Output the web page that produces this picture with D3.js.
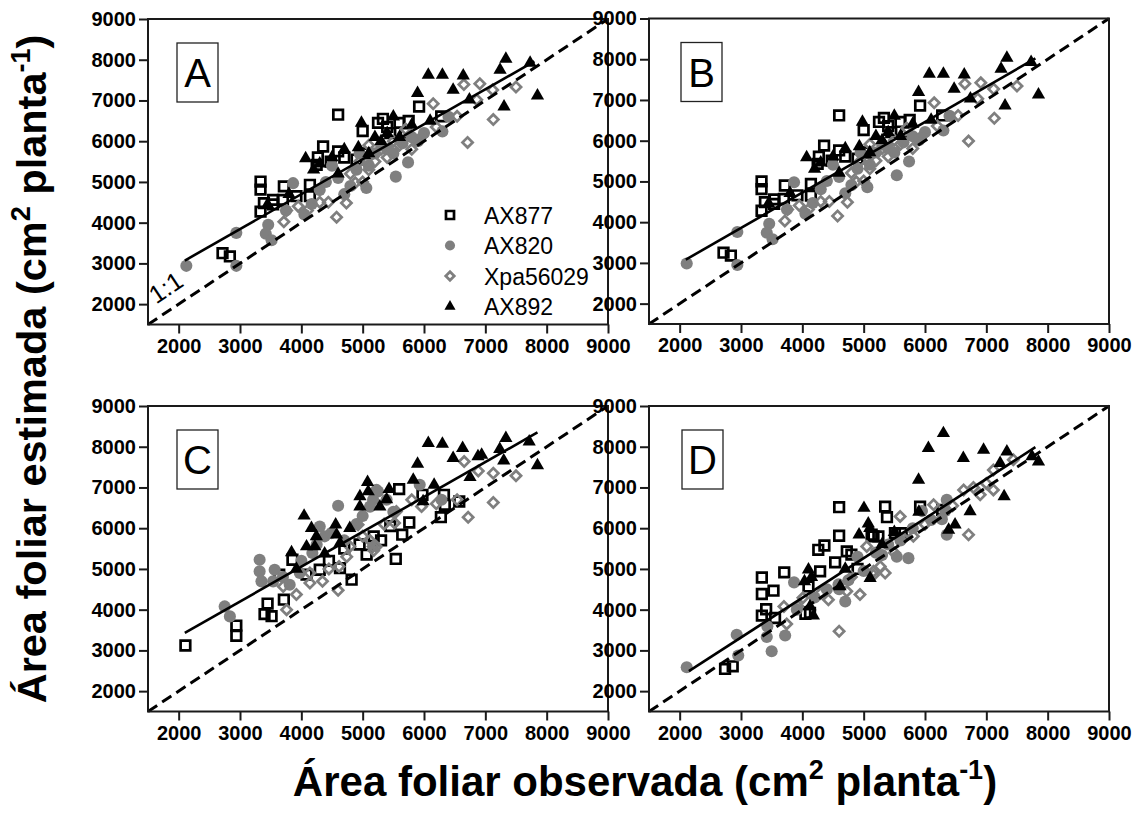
<!DOCTYPE html>
<html>
<head>
<meta charset="utf-8">
<script src="https://cdn.jsdelivr.net/npm/d3@7"></script>
<style>
  body { margin: 0; background: #fff; }
  svg { display: block; }
  text { font-family: "Liberation Sans", Arial, sans-serif; }
</style>
</head>
<body>
<svg id="chart" width="1145" height="818"></svg>
<script>
// ---------------- DATA ----------------
const seriesNames = ["AX877", "AX820", "Xpa56029", "AX892"];
const panelLetters = ["A", "B", "C", "D"];
const tickValues = [2000, 3000, 4000, 5000, 6000, 7000, 8000, 9000];
const axisDomain = [1500, 9000];

// [observed, estimated] pairs
const A_AX877 = [[2715,3250],[2835,3170],[3335,5010],[3335,4810],[3335,4270],[3390,4480],[3540,4560],[3540,4450],[3715,4890],[3700,4560],[3920,4650],[4140,4930],[4140,4650],[4250,5420],[4355,5870],[4270,5600],[4600,5750],[4600,6650],[4700,5600],[4900,5550],[5000,6250],[5050,5700],[5250,6450],[5330,6550],[5400,6350],[5450,6200],[5600,6450],[5700,6200],[5750,6500],[5920,6850],[6280,6610],[4480,5500]];
const A_AX820 = [[2125,2940],[2940,3750],[2940,2940],[3460,3950],[3420,3730],[3515,3570],[3865,4970],[3750,4300],[4170,4460],[4050,4200],[4300,4800],[4400,5000],[4500,5400],[4700,4700],[4800,4900],[4900,5300],[5060,4850],[5100,5400],[5200,5700],[5300,5900],[5400,5800],[5500,5700],[5540,5130],[5740,5480],[5900,6000],[6000,6200],[6300,6240],[6400,6600],[4600,5100],[5800,6100],[4950,5700],[5650,5950]];
const A_Xpa56029 = [[3715,4020],[3760,4300],[3950,4400],[4100,4300],[4300,4500],[4440,4500],[4575,4135],[4735,4480],[4800,5200],[4880,4980],[4950,5500],[5000,5000],[5100,5300],[5200,5500],[5300,5800],[5400,5600],[5500,6000],[5600,5900],[5700,6300],[5800,5800],[5975,6135],[6150,6920],[6540,6610],[6650,7390],[6710,5970],[6860,7020],[6910,7410],[7120,7260],[7130,6530],[7500,7330],[6200,6350],[5100,5900]];
const A_AX892 = [[3450,4450],[3800,4700],[4070,5580],[4200,5300],[4300,5450],[4500,5600],[4600,5200],[4700,5800],[4930,5850],[4980,6450],[5100,5700],[5300,6000],[5400,6200],[5500,6600],[5600,6100],[5800,6400],[5895,7180],[6070,7630],[6300,7630],[6475,7260],[6640,7610],[6740,7020],[7240,7750],[7335,8020],[7305,6850],[7730,7920],[7850,7120],[6100,6500],[5200,6100]];

const B_AX877 = [[2715,3250],[2835,3180],[3335,5000],[3335,4810],[3335,4280],[3390,4490],[3540,4560],[3540,4450],[3715,4900],[3700,4570],[3920,4660],[4140,4940],[4140,4650],[4250,5430],[4355,5880],[4270,5610],[4600,5760],[4600,6620],[4700,5610],[4900,5560],[5000,6260],[5050,5710],[5250,6460],[5330,6560],[5400,6360],[5450,6210],[5600,6460],[5700,6210],[5750,6510],[5920,6860],[6280,6620],[4480,5510]];
const B_AX820 = [[2115,2985],[2940,3760],[2940,2950],[3460,3960],[3420,3740],[3515,3580],[3865,4980],[3750,4310],[4170,4470],[4050,4210],[4300,4810],[4400,5010],[4500,5410],[4700,4710],[4800,4910],[4900,5310],[5060,4860],[5100,5410],[5200,5710],[5300,5910],[5400,5810],[5500,5710],[5540,5150],[5740,5490],[5900,6010],[6000,6210],[6300,6250],[6400,6610],[4600,5110],[5800,6110],[4950,5710],[5650,5960]];
const B_Xpa56029 = [[3715,4030],[3760,4310],[3950,4410],[4100,4310],[4300,4510],[4440,4510],[4575,4150],[4735,4490],[4800,5210],[4880,4990],[4950,5510],[5000,5010],[5100,5310],[5200,5510],[5300,5810],[5400,5610],[5500,6010],[5600,5910],[5700,6310],[5800,5810],[5975,6150],[6150,6930],[6540,6620],[6650,7400],[6710,5990],[6860,7030],[6910,7420],[7120,7270],[7130,6550],[7500,7340],[6200,6360],[5100,5910]];
const B_AX892 = [[3450,4460],[3800,4710],[4070,5590],[4200,5310],[4300,5460],[4500,5610],[4600,5210],[4700,5810],[4930,5860],[4980,6460],[5100,5710],[5300,6010],[5400,6210],[5500,6610],[5600,6110],[5800,6410],[5895,7190],[6070,7640],[6300,7640],[6475,7270],[6640,7620],[6740,7030],[7240,7760],[7335,8030],[7305,6860],[7730,7930],[7850,7130],[6100,6510],[5200,6110]];

const C_AX877 = [[2110,3120],[2940,3610],[2940,3360],[3450,4150],[3400,3890],[3515,3840],[3715,4245],[3640,4860],[3855,5225],[4085,4860],[4300,4980],[4630,5020],[4820,4735],[5065,5350],[5595,6960],[5975,6820],[6325,6820],[6340,6575],[6275,6270],[6575,6655],[5760,6140],[5645,5840],[5540,5245],[5180,5800],[4450,5200],[4700,5500],[4950,5600],[5300,5700],[5450,6050]];
const C_AX820 = [[2750,4080],[2835,3835],[3320,5225],[3320,4940],[3350,4695],[3565,4980],[3540,4695],[4300,6040],[4380,5800],[4600,6550],[4180,5390],[4490,5880],[4900,6100],[5170,6700],[5250,6900],[3810,4610],[3975,4900],[5225,6940],[5390,6700],[5930,7065],[6285,6700],[5120,6530],[4000,5200],[4700,5700],[5000,6300],[5500,6400],[4250,5600],[3700,4800]];
const C_Xpa56029 = [[3760,4000],[3705,4570],[3920,4370],[4140,4655],[4345,4695],[4600,4475],[4615,5060],[4740,5300],[4790,5550],[4925,6085],[5170,5550],[5120,5700],[4140,4900],[6655,7635],[6885,7405],[7130,7350],[7500,7285],[7130,6630],[6720,6270],[6540,6700],[5800,6700],[5960,6530],[5550,6410],[5520,6130],[5225,5550],[5180,5450],[4450,5000],[5000,5800],[5350,6100],[6200,6600]];
const C_AX892 = [[7335,8210],[7715,8125],[7235,7940],[6940,7800],[6880,7760],[7300,7660],[7850,7540],[6070,8085],[6300,8070],[6630,7965],[6475,7720],[5895,7580],[6750,7250],[5825,7185],[6165,7065],[5430,6960],[5985,6655],[5280,6530],[5390,6705],[5080,7130],[5090,6900],[4955,6780],[4955,6530],[4045,6305],[4165,6000],[4245,5800],[4560,6085],[4575,5840],[4085,5550],[4220,5550],[3840,5405],[3920,5000],[4790,6000],[4630,5635],[4380,5375]];

const D_AX877 = [[2740,2545],[2865,2610],[3340,4790],[3340,4385],[3340,3855],[3410,4010],[3530,4465],[3555,3795],[3705,4915],[4125,3920],[4100,4570],[4290,4940],[4260,5470],[4360,5575],[4600,6515],[4600,5815],[4535,5160],[4725,5430],[4800,5350],[5160,5800],[5240,5800],[5350,6530],[5920,6530],[5380,6270],[5130,5840],[5510,5880],[5620,5880],[6280,6450],[4900,5000],[4050,3900]];
const D_AX820 = [[2115,2585],[2930,3385],[2955,2875],[3430,3590],[3420,3330],[3500,2980],[3720,3365],[3865,4670],[3910,4000],[4600,4500],[4700,4200],[4590,4620],[4750,4720],[5000,4950],[6355,6695],[6330,6420],[6355,5840],[6275,6220],[5730,5265],[5540,5300],[5300,5340],[5950,6420],[4200,4300],[4400,4500],[5200,5400],[5600,5700],[5800,6000],[4900,5300],[6100,6200],[5400,5600]];
const D_Xpa56029 = [[3700,4080],[3745,3650],[3930,4080],[4010,4290],[4425,4245],[4600,3470],[4940,4370],[4725,4450],[5050,5550],[5160,4940],[7115,7430],[7440,7680],[7115,6940],[6900,6820],[6710,5840],[6630,6940],[6790,7000],[6140,6575],[5595,6290],[5350,4900],[5270,5060],[5160,4850],[5810,5800],[5650,5750],[6450,6550],[4300,4400],[4800,4800],[5500,5400],[6000,6100],[7000,7100]];
const D_AX892 = [[6300,8330],[6055,7965],[6955,7920],[7335,7880],[6625,7720],[7225,7595],[7850,7635],[5895,7185],[7745,7760],[7290,6780],[6735,6410],[6490,6085],[6385,5960],[5900,6400],[5100,6000],[5005,6495],[5075,6110],[4925,5840],[4100,4980],[4035,4695],[4150,4800],[4125,4080],[4180,3850],[4615,4570],[5105,4775],[5500,5900],[5300,5600],[4700,5000]];

// fitted regression segments [x1,y1,x2,y2]
const fitA = [2100, 3070, 7800, 7960];
const fitB = [2100, 3080, 7800, 8020];
const fitC = [2100, 3430, 7850, 8350];
const fitD = [2150, 2490, 7800, 7990];

// ---------------- BUILD ----------------
const panels = [
  { letter: "A", left: 148, top: 19,  data: [A_AX877, A_AX820, A_Xpa56029, A_AX892], fit: fitA, box: 29, legend: true, oneToOne: true },
  { letter: "B", left: 649, top: 18.5, data: [B_AX877, B_AX820, B_Xpa56029, B_AX892], fit: fitB, box: 32 },
  { letter: "C", left: 148, top: 406, data: [C_AX877, C_AX820, C_Xpa56029, C_AX892], fit: fitC, box: 29 },
  { letter: "D", left: 649, top: 406, data: [D_AX877, D_AX820, D_Xpa56029, D_AX892], fit: fitD, box: 33 }
];
const W = 460, H = 305.5;
const gray = "#7f7f7f";

const svg = d3.select("#chart");
svg.append("rect").attr("width", 1145).attr("height", 818).attr("fill", "#fff");

const styles = [
  { sym: d3.symbolSquare, size: 92, fill: "none", stroke: "#000", sw: 2.7, rot: 0 },
  { sym: d3.symbolCircle, size: 115, fill: gray, stroke: "none", sw: 0, rot: 0 },
  { sym: d3.symbolSquare, size: 52, fill: "none", stroke: gray, sw: 2.7, rot: 45 },
  { sym: d3.symbolTriangle, size: 76, fill: "#000", stroke: "none", sw: 0, rot: 0 }
];

panels.forEach(p => {
  const g = svg.append("g").attr("transform", `translate(${p.left},${p.top})`);
  const x = d3.scaleLinear().domain(axisDomain).range([0, W]);
  const y = d3.scaleLinear().domain(axisDomain).range([H, 0]);

  // axes
  const fmt = d3.format("d");
  const xAxis = d3.axisBottom(x).tickValues(tickValues).tickFormat(fmt).tickSize(9).tickSizeOuter(0).tickPadding(5);
  const yAxis = d3.axisLeft(y).tickValues(tickValues).tickFormat(fmt).tickSize(9).tickSizeOuter(0).tickPadding(3);
  const gx = g.append("g").attr("transform", `translate(0,${H})`).call(xAxis);
  const gy = g.append("g").call(yAxis);
  [gx, gy].forEach(a => {
    a.select(".domain").remove();
    a.selectAll(".tick line").attr("stroke", "#1a1a1a").attr("stroke-width", 2);
    a.selectAll(".tick text").attr("fill", "#000").style("font-size", "20px").style("font-weight", "bold")
      .style("font-family", '"Liberation Sans", Arial, sans-serif');
  });

  // data marks
  p.data.forEach((arr, si) => {
    const st = styles[si];
    const gen = d3.symbol().type(st.sym).size(st.size);
    g.append("g").selectAll("path").data(arr).join("path")
      .attr("d", gen)
      .attr("transform", d => `translate(${x(d[0])},${y(d[1])}) rotate(${st.rot})`)
      .attr("fill", st.fill).attr("stroke", st.stroke).attr("stroke-width", st.sw);
  });

  // 1:1 line
  g.append("line")
    .attr("x1", x(1500)).attr("y1", y(1500)).attr("x2", x(9000)).attr("y2", y(9000))
    .attr("stroke", "#000").attr("stroke-width", 3).attr("stroke-dasharray", "11,6");

  // regression line
  g.append("line")
    .attr("x1", x(p.fit[0])).attr("y1", y(p.fit[1])).attr("x2", x(p.fit[2])).attr("y2", y(p.fit[3]))
    .attr("stroke", "#000").attr("stroke-width", 2.6);

  // frame
  g.append("rect").attr("x", 0).attr("y", 0).attr("width", W).attr("height", H)
    .attr("fill", "none").attr("stroke", "#1a1a1a").attr("stroke-width", 2);

  // panel letter box
  g.append("rect").attr("x", p.box).attr("y", 24).attr("width", 41).attr("height", 59)
    .attr("fill", "#fff").attr("stroke", "#222").attr("stroke-width", 1.3);
  g.append("text").attr("x", p.box + 20.5).attr("y", 68).attr("text-anchor", "middle")
    .style("font-size", "40px").text(p.letter);

  if (p.oneToOne) {
    const ang = -Math.atan((y(1500) - y(9000)) / (x(9000) - x(1500))) * 180 / Math.PI;
    g.append("text").attr("transform", `translate(${x(1870)},${y(2230)}) rotate(${ang})`)
      .attr("text-anchor", "middle").style("font-size", "25px").text("1:1");
  }

  if (p.legend) {
    const lx = 302, ly0 = 196, dy = 30.5;
    seriesNames.forEach((name, si) => {
      const st = styles[si];
      const gen = d3.symbol().type(st.sym).size(st.size * 0.7);
      g.append("path").attr("d", gen)
        .attr("transform", `translate(${lx},${ly0 + si * dy}) rotate(${st.rot})`)
        .attr("fill", st.fill).attr("stroke", st.stroke).attr("stroke-width", st.sw);
      g.append("text").attr("x", lx + 34).attr("y", ly0 + si * dy + 8.5)
        .style("font-size", "23px").text(name);
    });
  }
});

// axis titles
const xt = svg.append("text").attr("x", 645).attr("y", 796).attr("text-anchor", "middle")
  .style("font-size", "42px").style("font-weight", "bold");
xt.append("tspan").text("Área foliar observada (cm");
xt.append("tspan").attr("dy", -17).style("font-size", "27px").text("2");
xt.append("tspan").attr("dy", 17).text(" planta");
xt.append("tspan").attr("dy", -17).style("font-size", "27px").text("-1");
xt.append("tspan").attr("dy", 17).text(")");

const yt = svg.append("text").attr("transform", "translate(46,369) rotate(-90)").attr("text-anchor", "middle")
  .style("font-size", "41.5px").style("font-weight", "bold");
yt.append("tspan").text("Área foliar estimada (cm");
yt.append("tspan").attr("dy", -16).style("font-size", "27px").text("2");
yt.append("tspan").attr("dy", 16).text(" planta");
yt.append("tspan").attr("dy", -16).style("font-size", "27px").text("-1");
yt.append("tspan").attr("dy", 16).text(")");
</script>
</body>
</html>
